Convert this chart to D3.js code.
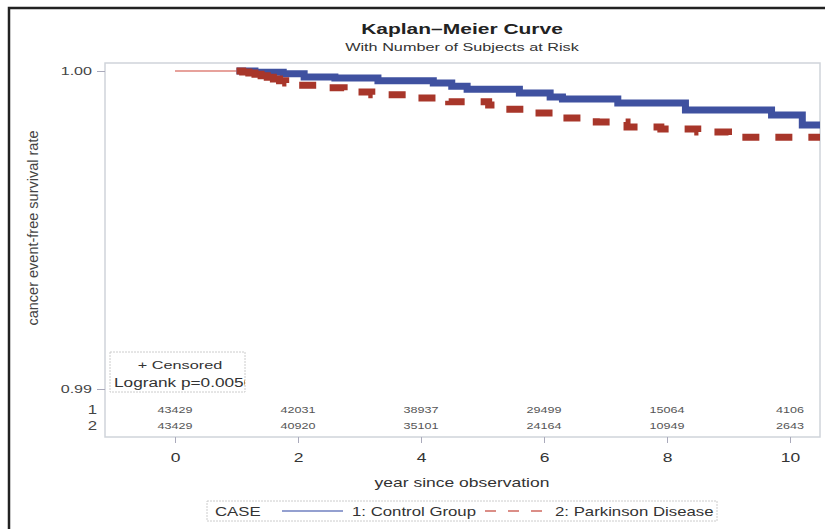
<!DOCTYPE html>
<html><head><meta charset="utf-8">
<script src="https://cdn.jsdelivr.net/npm/d3@7"></script>
<style>body{margin:0;background:#fff}svg{display:block}text{font-family:"Liberation Sans",Arial,sans-serif}</style>
</head><body><svg id="c" width="825" height="529"></svg>
<script>
const timeTicks = [0, 2, 4, 6, 8, 10];
const yTicks = [0.99, 1.00];
const atRiskControl = [43429, 42031, 38937, 29499, 15064, 4106];
const atRiskPD = [43429, 40920, 35101, 24164, 10949, 2643];
const controlTime = [1.0, 1.3, 1.76, 2.1, 2.6, 3.3, 4.2, 4.5, 4.75, 5.6, 6.1, 6.3, 7.2, 8.3, 9.7, 10.2, 10.5];
const controlSurv = [1.0, 0.99996, 0.99991, 0.99981, 0.99978, 0.99969, 0.99962, 0.99952, 0.99943, 0.99931, 0.99918, 0.99912, 0.99899, 0.99877, 0.99862, 0.99830, 0.99830];
const pdTime = [1.0, 1.1, 1.2, 1.3, 1.4, 1.5, 1.6, 1.7, 1.8, 2.0, 2.3, 2.75, 3.2, 3.9, 4.45, 5.1, 5.3, 5.8, 6.3, 6.85, 7.35, 7.9, 8.5, 9.0, 10.5];
const pdSurv = [1.0, 0.99997, 0.99994, 0.99990, 0.99985, 0.99980, 0.99975, 0.99969, 0.99962, 0.99955, 0.99947, 0.99934, 0.99925, 0.99915, 0.99903, 0.99893, 0.9988, 0.99868, 0.99852, 0.9984, 0.99824, 0.99818, 0.99808, 0.99792, 0.99792];
const groupLabels = ["1: Control Group", "2: Parkinson Disease"];

const SX = 1.4;
const blue = "#3f51a0", red = "#a8362a";
const svg = d3.select("#c");
const frame = {l: 105, t: 63, r: 820, b: 437};
const x = d3.scaleLinear().domain([0, 10]).range([175, 790]);
const y = d3.scaleLinear().domain([0.99, 1.00]).range([389, 71]);

function wtext(parent, px, py, str, size, anchor, opts = {}) {
  return parent.append("text")
    .attr("transform", `translate(${px},${py}) scale(${SX},1)`)
    .attr("text-anchor", anchor || "start")
    .attr("font-size", size)
    .attr("font-weight", opts.bold ? "bold" : null)
    .attr("fill", opts.fill || "#333")
    .text(str);
}

// outer border
svg.append("path").attr("d", "M9,529 V8 H825").attr("fill", "none").attr("stroke", "#222").attr("stroke-width", 2.5);

wtext(svg, 462, 34, "Kaplan\u2013Meier Curve", 15, "middle", {bold: true, fill: "#222"});
wtext(svg, 462, 51, "With Number of Subjects at Risk", 11.6, "middle");

// plot frame
svg.append("rect").attr("x", frame.l).attr("y", frame.t).attr("width", frame.r - frame.l).attr("height", frame.b - frame.t)
  .attr("fill", "none").attr("stroke", "#cfd4da").attr("stroke-width", 1.5);

// y axis
const yAx = svg.append("g").attr("transform", `translate(${frame.l},0)`)
  .call(d3.axisLeft(y).tickValues(yTicks).tickFormat(d3.format(".2f")).tickSize(8).tickPadding(5));
yAx.select(".domain").remove();
yAx.selectAll("line").attr("stroke", "#aab");
yAx.selectAll("text").attr("x", 0).attr("transform", `translate(-13,0) scale(${SX},1)`)
  .attr("font-size", 11.5).attr("fill", "#444").attr("font-family", "Liberation Sans, Arial, sans-serif");
svg.append("text").attr("transform", "translate(38,228) rotate(-90)").attr("text-anchor", "middle").attr("font-size", 14.5).attr("fill", "#444").text("cancer event-free survival rate");

// x axis
const xAx = svg.append("g").attr("transform", `translate(0,${frame.b})`)
  .call(d3.axisBottom(x).tickValues(timeTicks).tickSize(6).tickPadding(10));
xAx.select(".domain").remove();
xAx.selectAll("line").attr("stroke", "#aab");
xAx.selectAll(".tick text").attr("transform", `scale(${SX},1)`)
  .attr("font-size", 12.5).attr("fill", "#333").attr("font-family", "Liberation Sans, Arial, sans-serif");
wtext(svg, 462, 487, "year since observation", 12.5, "middle");

// curves
svg.append("clipPath").attr("id", "pc").append("rect").attr("x", frame.l).attr("y", frame.t).attr("width", frame.r - frame.l).attr("height", frame.b - frame.t);
const g = svg.append("g").attr("clip-path", "url(#pc)");
const line = d3.line().x(d => x(d[0])).y(d => y(d[1])).curve(d3.curveStepAfter);
g.append("path").datum([[0, 1], [1, 1]]).attr("d", line).attr("fill", "none").attr("stroke", "#d0473a").attr("stroke-width", 1.2);
g.append("path").datum(controlTime.map((t, i) => [t, controlSurv[i]])).attr("d", line)
  .attr("fill", "none").attr("stroke", blue).attr("stroke-width", 7);
const dashes = [62, 15];
for (let i = 0; i < 40; i++) dashes.push(17, 16);
g.append("path").datum(pdTime.map((t, i) => [t, pdSurv[i]])).attr("d", line)
  .attr("fill", "none").attr("stroke", red).attr("stroke-width", 7).attr("stroke-dasharray", dashes.join(","));

// at-risk table
[atRiskControl, atRiskPD].forEach((row, r) => {
  const yy = 414 + r * 16;
  wtext(svg, 97, yy, String(r + 1), 12, "end", {fill: "#444"});
  row.forEach((v, i) => wtext(svg, x(timeTicks[i]), yy - 1, String(v), 9, "middle", {fill: "#555"}));
});

// censored inset
const ins = {x: 110, y: 352, w: 135, h: 40};
svg.append("clipPath").attr("id", "ic").append("rect").attr("x", ins.x).attr("y", ins.y).attr("width", ins.w).attr("height", ins.h);
svg.append("rect").attr("x", ins.x).attr("y", ins.y).attr("width", ins.w).attr("height", ins.h).attr("fill", "#fff")
  .attr("stroke", "#ccc").attr("stroke-dasharray", "2,1");
const ig = svg.append("g").attr("clip-path", "url(#ic)");
wtext(ig, 180, 369, "+ Censored", 11.6, "middle");
wtext(ig, 114, 387, "Logrank p=0.0050", 12.3, "start");

// bottom legend
svg.append("rect").attr("x", 207).attr("y", 501).attr("width", 510).attr("height", 20).attr("fill", "#fff").attr("stroke", "#ccc").attr("stroke-dasharray", "2,1");
wtext(svg, 215, 516, "CASE", 12, "start");
svg.append("line").attr("x1", 282).attr("x2", 343).attr("y1", 511).attr("y2", 511).attr("stroke", "#7080c0").attr("stroke-width", 1.5);
wtext(svg, 352, 516, groupLabels[0], 12, "start");
svg.append("line").attr("x1", 485).attr("x2", 545).attr("y1", 511).attr("y2", 511).attr("stroke", "#d06a60").attr("stroke-width", 1.5).attr("stroke-dasharray", "11,12");
wtext(svg, 555, 516, groupLabels[1], 12, "start");
</script></body></html>
